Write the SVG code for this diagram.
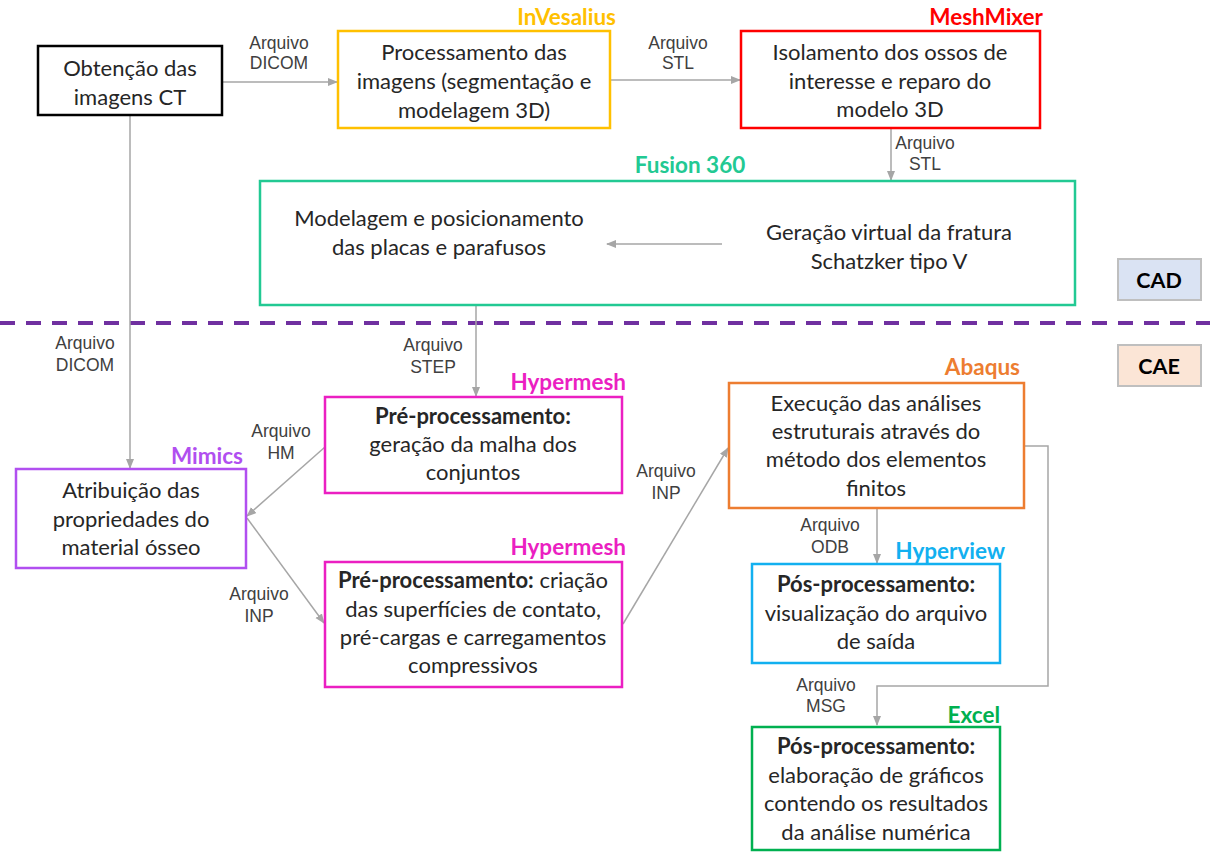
<svg xmlns="http://www.w3.org/2000/svg" width="1210" height="852" viewBox="0 0 1210 852">
<defs>
<marker id="ah" markerWidth="10" markerHeight="10" refX="9" refY="5" orient="auto" markerUnits="userSpaceOnUse">
<path d="M0,1 L10,5 L0,9 Z" fill="#A6A6A6"/>
</marker>
<style>
.box{fill:#fff;stroke-width:2.5}
.t{font-family:Lato,"Open Sans",sans-serif;font-size:22px;fill:#262626;text-anchor:middle}
.b{font-weight:bold}
.sw{font-family:Lato,"Open Sans",sans-serif;font-size:22.5px;font-weight:bold;text-anchor:end}
.el{font-family:"Liberation Sans",Arial,sans-serif;font-size:17.5px;fill:#404040;text-anchor:middle}
.c{fill:none;stroke:#A6A6A6;stroke-width:1.5}
</style>
</defs>
<rect width="1210" height="852" fill="#fff"/>

<line x1="0" y1="323" x2="1210" y2="323" stroke="#7030A0" stroke-width="4" stroke-dasharray="15 11"/>

<g id="connectors">
<line class="c" x1="223" y1="82" x2="337" y2="82" marker-end="url(#ah)"/>
<line class="c" x1="611" y1="80" x2="740" y2="80" marker-end="url(#ah)"/>
<line class="c" x1="891" y1="129" x2="891" y2="180" marker-end="url(#ah)"/>
<line class="c" x1="722" y1="244" x2="607" y2="244" marker-end="url(#ah)"/>
<line class="c" x1="476" y1="306" x2="476" y2="396" marker-end="url(#ah)"/>
<line class="c" x1="130" y1="116" x2="130" y2="468" marker-end="url(#ah)"/>
<line class="c" x1="325" y1="447" x2="247" y2="516" marker-end="url(#ah)"/>
<line class="c" x1="247" y1="518" x2="324" y2="623" marker-end="url(#ah)"/>
<line class="c" x1="623" y1="624" x2="728" y2="448" marker-end="url(#ah)"/>
<line class="c" x1="877" y1="509" x2="877" y2="563" marker-end="url(#ah)"/>
<polyline class="c" points="1025,446 1048,446 1048,686 877,686 877,725" marker-end="url(#ah)"/>
<text class="el" x="279" y="49">Arquivo</text><text class="el" x="279" y="69">DICOM</text>
<text class="el" x="678" y="49">Arquivo</text><text class="el" x="678" y="69">STL</text>
<text class="el" x="925" y="149">Arquivo</text><text class="el" x="925" y="170">STL</text>
<text class="el" x="433" y="351">Arquivo</text><text class="el" x="433" y="373">STEP</text>
<text class="el" x="85" y="349">Arquivo</text><text class="el" x="85" y="371">DICOM</text>
<text class="el" x="281" y="437">Arquivo</text><text class="el" x="281" y="459">HM</text>
<text class="el" x="259" y="600">Arquivo</text><text class="el" x="259" y="622">INP</text>
<text class="el" x="666" y="477">Arquivo</text><text class="el" x="666" y="499">INP</text>
<text class="el" x="830" y="531">Arquivo</text><text class="el" x="830" y="553">ODB</text>
<text class="el" x="826" y="691">Arquivo</text><text class="el" x="826" y="712">MSG</text>
</g>

<g id="obtencao">
<rect class="box" x="38" y="46" width="184" height="69" stroke="#000"/>
<text class="t" x="130" y="76">Obtenção das</text>
<text class="t" x="130" y="105">imagens CT</text>
</g>

<g id="invesalius">
<text class="sw" x="616" y="25" fill="#FFC000">InVesalius</text>
<rect class="box" x="338" y="31" width="272" height="97" stroke="#FFC000"/>
<text class="t" x="474" y="60">Processamento das</text>
<text class="t" x="474" y="89">imagens (segmentação e</text>
<text class="t" x="474" y="118">modelagem 3D)</text>
</g>

<g id="meshmixer">
<text class="sw" x="1043" y="25" fill="#FF0000">MeshMixer</text>
<rect class="box" x="741" y="31" width="299" height="97" stroke="#FF0000"/>
<text class="t" x="890" y="60">Isolamento dos ossos de</text>
<text class="t" x="890" y="89">interesse e reparo do</text>
<text class="t" x="890" y="117">modelo 3D</text>
</g>

<g id="fusion">
<text class="sw" x="690" y="173" fill="#22C993" style="text-anchor:middle">Fusion 360</text>
<rect x="260" y="181" width="815" height="124" stroke="#22C993" stroke-width="2.5" fill="none"/>
<text class="t" x="439" y="226">Modelagem e posicionamento</text>
<text class="t" x="439" y="255">das placas e parafusos</text>
<text class="t" x="889" y="240">Geração virtual da fratura</text>
<text class="t" x="889" y="269">Schatzker tipo V</text>
</g>

<g id="cad">
<rect x="1118" y="259" width="83" height="41" fill="#DAE3F3" stroke="#BFBFBF" stroke-width="2"/>
<text class="sw" x="1159" y="288" fill="#000" style="text-anchor:middle;font-size:21.5px">CAD</text>
</g>
<g id="cae">
<rect x="1118" y="345" width="83" height="41" fill="#FBE5D6" stroke="#BFBFBF" stroke-width="2"/>
<text class="sw" x="1159" y="374" fill="#000" style="text-anchor:middle;font-size:21.5px">CAE</text>
</g>

<g id="hypermesh1">
<text class="sw" x="626" y="390" fill="#EB1FC2">Hypermesh</text>
<rect class="box" x="325" y="397" width="297" height="96" stroke="#EB1FC2"/>
<text class="t b" x="473" y="424">Pré-processamento:</text>
<text class="t" x="473" y="452">geração da malha dos</text>
<text class="t" x="473" y="480">conjuntos</text>
</g>

<g id="mimics">
<text class="sw" x="243" y="464" fill="#B14FF0">Mimics</text>
<rect class="box" x="16" y="469" width="230" height="99" stroke="#B14FF0"/>
<text class="t" x="131" y="498">Atribuição das</text>
<text class="t" x="131" y="527">propriedades do</text>
<text class="t" x="131" y="555">material ósseo</text>
</g>

<g id="hypermesh2">
<text class="sw" x="626" y="555" fill="#EB1FC2">Hypermesh</text>
<rect class="box" x="325" y="562" width="297" height="125" stroke="#EB1FC2"/>
<text class="t" x="473" y="588"><tspan font-weight="bold">Pré-processamento:</tspan> criação</text>
<text class="t" x="473" y="617">das superfícies de contato,</text>
<text class="t" x="473" y="645">pré-cargas e carregamentos</text>
<text class="t" x="473" y="673">compressivos</text>
</g>

<g id="abaqus">
<text class="sw" x="1020" y="375" fill="#ED7D31">Abaqus</text>
<rect class="box" x="729" y="383" width="295" height="125" stroke="#ED7D31"/>
<text class="t" x="876" y="411">Execução das análises</text>
<text class="t" x="876" y="439">estruturais através do</text>
<text class="t" x="876" y="467">método dos elementos</text>
<text class="t" x="876" y="496">finitos</text>
</g>

<g id="hyperview">
<text class="sw" x="1005" y="559" fill="#12B0F0">Hyperview</text>
<rect class="box" x="752" y="564" width="248" height="99" stroke="#12B0F0"/>
<text class="t b" x="876" y="592">Pós-processamento:</text>
<text class="t" x="876" y="621">visualização do arquivo</text>
<text class="t" x="876" y="649">de saída</text>
</g>

<g id="excel">
<text class="sw" x="1000" y="723" fill="#00B050">Excel</text>
<rect class="box" x="752" y="727" width="248" height="123" stroke="#00B050"/>
<text class="t b" x="876" y="754">Pós-processamento:</text>
<text class="t" x="876" y="783">elaboração de gráficos</text>
<text class="t" x="876" y="811">contendo os resultados</text>
<text class="t" x="876" y="840">da análise numérica</text>
</g>
</svg>
